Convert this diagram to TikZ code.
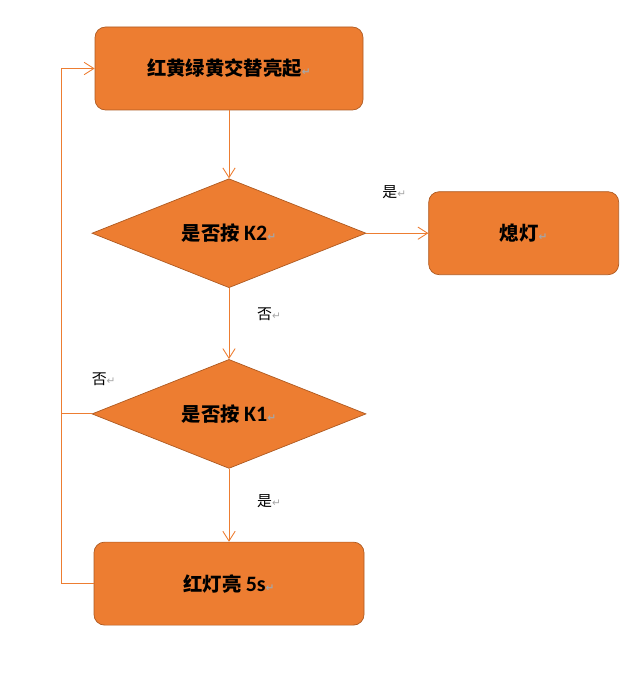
\documentclass[tikz,border=0pt]{standalone}
\usepackage{fontspec}
\setmainfont{Noto Sans CJK SC}
\newfontfamily\carl{Carlito}
\newfontfamily\djv{DejaVu Sans}
\usetikzlibrary{
  arrows.meta,
  positioning,
  shapes.geometric
}
\definecolor{wordorange}{RGB}{237,125,49}
\definecolor{wordedge}{RGB}{174,90,33}
\newcommand{\ret}{{\djv\fontsize{6}{7}\selectfont\color{gray!70}\char"21B5}}
\newcommand{\lat}[1]{{\carl\fontsize{12.5}{14}\selectfont #1}}
\tikzset{
  procbox/.style={draw=wordedge, fill=wordorange, rounded corners=6pt,
    minimum width=5.36cm, minimum height=1.66cm, inner sep=0pt,
    align=center, font=\fontsize{11}{13}\selectfont\bfseries},
  decbox/.style={diamond, draw=wordedge, fill=wordorange, aspect=2.5,
    minimum width=5.48cm, minimum height=2.18cm, inner sep=0pt,
    align=center, font=\fontsize{11}{13}\selectfont\bfseries},
  lbl/.style={font=\fontsize{8.5}{10}\selectfont, inner sep=0pt},
  arr/.style={-{Straight Barb[length=5.5pt,width=7pt]}, draw=wordorange, line width=0.5pt},
  ln/.style={draw=wordorange, line width=0.5pt},
}

\begin{document}
\begin{tikzpicture}[node distance=1.36cm]
  \useasboundingbox (0,0) rectangle (12.86,-13.54);

  \node[procbox] (start) at (4.58,-1.37) {红黄绿黄交替亮起\ret};
  \node[decbox, below=1.36cm of start] (k2) {是否按 \lat{K2}\ret};
  \node[procbox, minimum width=3.8cm, right=1.24cm of k2] (off) {熄灯\ret};
  \node[decbox, below=1.42cm of k2] (k1) {是否按 \lat{K1}\ret};
  \node[procbox, minimum width=5.4cm, below=1.46cm of k1] (red) {红灯亮 \lat{5s}\ret};

  \coordinate[left=0.64cm of red.west] (lp);

  \draw[arr] (start) -- (k2);
  \draw[arr] (k2) -- node[lbl, pos=0.45, yshift=0.82cm] {是\ret} (off);
  \draw[arr] (k2) -- node[lbl, pos=0.37, xshift=0.8cm] {否\ret} (k1);
  \draw[arr] (k1) -- node[lbl, pos=0.45, xshift=0.8cm] {是\ret} (red);
  \draw[ln] (k1.west) -- node[lbl, pos=-0.4, yshift=0.7cm] {否\ret} (k1.west -| lp);
  \draw[arr] (red.west) -- (lp) |- (start.west);
\end{tikzpicture}
\end{document}
